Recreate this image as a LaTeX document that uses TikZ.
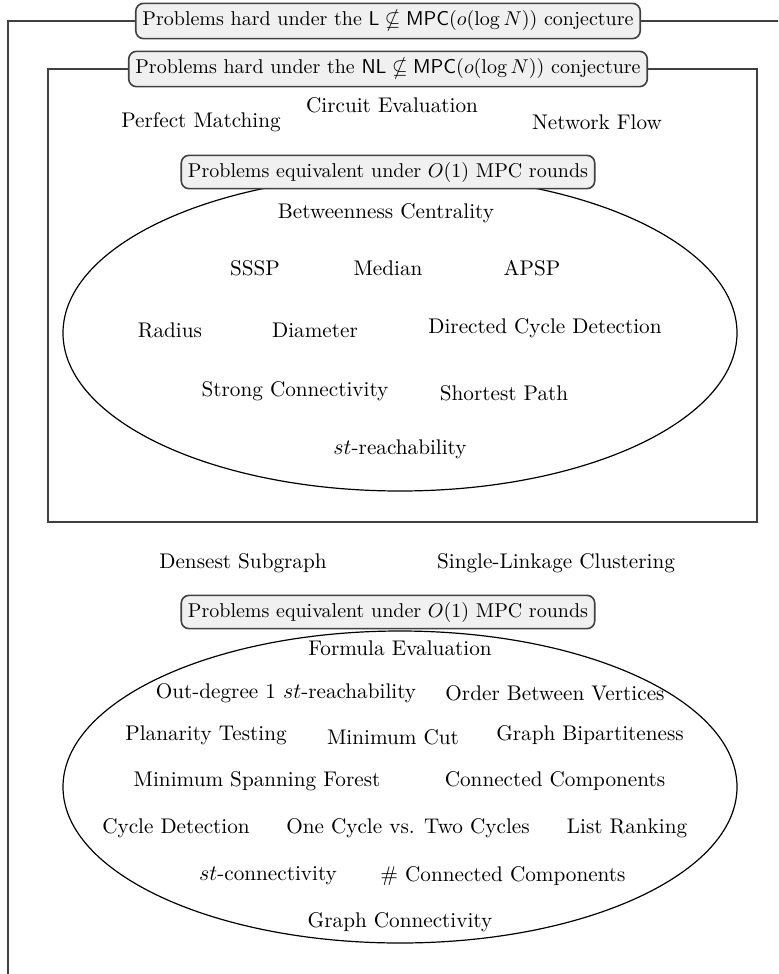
\documentclass[tikz,border=0pt]{standalone}
\usepackage{amsmath,amssymb}
\usetikzlibrary{shapes.misc}
\definecolor{rahmen}{RGB}{64,64,64}
\definecolor{titelgrau}{RGB}{240,240,240}

\begin{document}
\begin{tikzpicture}[x=0.5pt, y=-0.5pt,
    titel/.style={draw=rahmen, thick, fill=titelgrau, rounded corners=0.9ex},
    problem/.style={inner sep=1pt, font=\fontsize{10.6pt}{13pt}\selectfont}]

    \clip (0,0) rectangle (778,974);

    % outer frame (L) and inner frame (NL)
    \draw[rahmen, thick] (8,21) rectangle (820,1000);
    \draw[rahmen, thick] (48,69) rectangle (757,522);

    % the two equivalence classes
    \draw[semithick] (400,333) ellipse (337 and 158);
    \draw[semithick] (400,787) ellipse (337 and 156);

    \node[titel] (titelL) at (388,21) {Problems hard under the $\mathsf{L} \nsubseteq \mathsf{MPC}(o(\log N))$ conjecture};
    \node[titel] (titelNL) at (388,69) {Problems hard under the $\mathsf{NL} \nsubseteq \mathsf{MPC}(o(\log N))$ conjecture};

    % inside the NL frame
    \node[problem] (perfMatch) at (201,122) {Perfect Matching};
    \node[problem] (circEval) at (392,105) {Circuit Evaluation};
    \node[problem] (netFlow) at (597,122) {Network Flow};

    \node[titel] (titelEqA) at (388,172) {Problems equivalent under $O(1)$ MPC rounds};
    \node[problem] (betwCent) at (386,213) {Betweenness Centrality};
    \node[problem] (sssp) at (255,268) {SSSP};
    \node[problem] (median) at (388,268) {Median};
    \node[problem] (apsp) at (532,268) {APSP};
    \node[problem] (radius) at (170,330) {Radius};
    \node[problem] (diameter) at (315,330) {Diameter};
    \node[problem] (dirCycle) at (545,328) {Directed Cycle Detection};
    \node[problem] (strongConn) at (295,391) {Strong Connectivity};
    \node[problem] (shortPath) at (504,393) {Shortest Path};
    \node[problem] (stReach) at (400,449) {$st$-reachability};

    % between the frames
    \node[problem] (densSub) at (243,563) {Densest Subgraph};
    \node[problem] (singleLink) at (556,563) {Single-Linkage Clustering};

    \node[titel] (titelEqB) at (388,612) {Problems equivalent under $O(1)$ MPC rounds};
    \node[problem] (formEval) at (400,648) {Formula Evaluation};
    \node[problem] (outDeg) at (286,693) {Out-degree 1 $st$-reachability};
    \node[problem] (orderVert) at (555,693) {Order Between Vertices};
    \node[problem] (planar) at (206,735) {Planarity Testing};
    \node[problem] (minCut) at (393,737) {Minimum Cut};
    \node[problem] (bipart) at (590,735) {Graph Bipartiteness};
    \node[problem] (msf) at (257,781) {Minimum Spanning Forest};
    \node[problem] (connComp) at (555,781) {Connected Components};
    \node[problem] (cycleDet) at (176,828) {Cycle Detection};
    \node[problem] (oneTwo) at (408,828) {One Cycle vs. Two Cycles};
    \node[problem] (listRank) at (627,828) {List Ranking};
    \node[problem] (stConn) at (268,876) {$st$-connectivity};
    \node[problem] (numComp) at (503,876) {\# Connected Components};
    \node[problem] (graphConn) at (400,922) {Graph Connectivity};

\end{tikzpicture}
\end{document}
